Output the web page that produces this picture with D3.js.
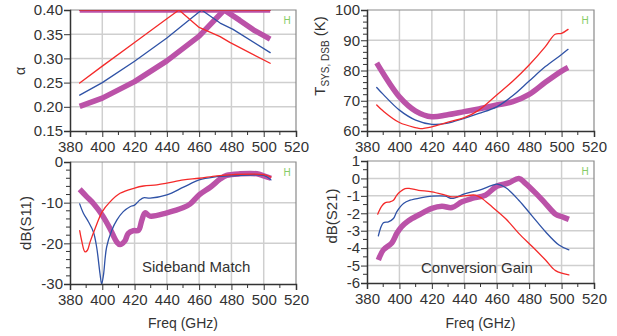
<!DOCTYPE html>
<html><head><meta charset="utf-8">
<script src="https://cdn.jsdelivr.net/npm/d3@7"></script>
<style>body{margin:0;background:#fff}svg{display:block;font-family:"Liberation Sans",Arial,sans-serif}</style>
</head><body><svg id="c" width="617" height="336"></svg>
<script>
// ---------- data ----------
const freqTicks = [380,400,420,440,460,480,500,520];
const freqMinor = [390,410,430,450,470,490,510];

const alphaTicks = [0.15,0.20,0.25,0.30,0.35,0.40];
const alphaRed  = [[386,0.249],[400,0.284],[420,0.333],[440,0.382],[447.5,0.40],[460,0.364],[473,0.345],[479,0.333],[504,0.290]];
const alphaBlue = [[386,0.224],[400,0.250],[420,0.294],[440,0.342],[461.5,0.40],[473,0.373],[481,0.360],[504,0.312]];
const alphaMag  = [[386,0.201],[400,0.218],[420,0.252],[440,0.295],[460,0.346],[475.5,0.40],[485,0.379],[493.6,0.359],[504,0.340]];
const alphaFlat = [[386,0.40],[504,0.40]];

const tsysTicks = [60,70,80,90,100];
const tsysMinor = [62,64,66,68,72,74,76,78,82,84,86,88,92,94,96,98];
const tsysMag  = [[386,82.5],[390,79.0],[400,71.3],[410,66.6],[420,64.7],[429,65.3],[440,66.4],[449,67.3],[460,68.6],[470,69.7],[480,72.1],[490,76.1],[500,79.8],[504,81.0]];
const tsysBlue = [[386,74.4],[390,72.1],[400,66.9],[410,63.6],[420,62.2],[429,62.5],[440,64.2],[449,65.8],[460,68.0],[470,71.7],[480,76.5],[490,81.3],[500,85.3],[504,87.0]];
const tsysRed  = [[386,68.6],[390,66.6],[400,62.8],[410,61.1],[413,60.8],[420,61.4],[429,62.8],[440,64.4],[449,66.9],[460,71.9],[470,76.5],[480,81.8],[490,87.9],[496,92.0],[500,92.3],[504,93.6]];

const s11Ticks = [-30,-20,-10,0];
const s11Minor = [-28,-26,-24,-22,-18,-16,-14,-12,-8,-6,-4,-2];
const s11Mag  = [[386,-6.7],[390.3,-8.5],[394.5,-10.2],[400,-13.1],[404.8,-16.4],[409,-19.7],[411,-20.3],[414,-19.4],[416,-17.6],[419.3,-16.9],[422.4,-16.8],[424.5,-14.3],[426.5,-12.5],[429.6,-13.3],[440,-12.5],[450.3,-11.2],[454.5,-10.3],[460,-8.1],[466.9,-6.2],[473,-4.2],[477,-3.3],[485.5,-2.9],[495.8,-2.9],[500,-3.4],[504.5,-4.0]];
const s11Blue = [[386,-10.3],[388.3,-12.6],[391.4,-14.7],[394.5,-17.2],[396.5,-20.9],[398.6,-27.5],[399.6,-30],[400.7,-27.9],[402.7,-20.9],[405.9,-16.8],[409,-14.3],[413,-12.2],[417.2,-11.0],[420,-10.6],[423.4,-9.3],[425.5,-8.8],[429.6,-8.9],[440,-8.1],[450.3,-6.2],[460,-4.4],[469,-3.7],[481,-3.4],[500,-3.3],[504.5,-4.4]];
const s11Red  = [[386,-16.9],[387.2,-19.3],[389.3,-22.1],[390.8,-21.7],[392.4,-19.7],[395.5,-16.4],[400,-12.2],[404.8,-9.8],[411,-7.7],[420,-6.4],[425.5,-5.9],[433.8,-5.6],[440,-5.2],[450.3,-4.4],[460,-4.0],[471,-3.4],[481,-3.1],[500,-3.1],[504.5,-3.7]];

const s21Ticks = [-6,-5,-4,-3,-2,-1,0,1];
const s21Minor = [-5.5,-4.5,-3.5,-2.5,-1.5,-0.5,0.5];
const s21Mag  = [[387,-4.68],[390.1,-4.1],[395.3,-3.7],[398.4,-3.15],[401.4,-2.77],[405.6,-2.43],[411.8,-2.1],[420,-1.72],[426.2,-1.6],[432.4,-1.67],[438.6,-1.34],[444.7,-1.15],[453,-0.96],[460,-0.45],[467.4,-0.26],[473.6,0.0],[477.7,-0.28],[483.9,-0.83],[490.1,-1.44],[496.3,-2.05],[500.4,-2.2],[504.5,-2.35]];
const s21Blue = [[387,-3.3],[390.1,-2.54],[393.2,-2.49],[396.3,-2.3],[398.4,-1.91],[402.5,-1.44],[406.6,-1.25],[413.8,-1.1],[420,-1.02],[428.2,-1.02],[432.4,-1.15],[440.6,-0.87],[448.9,-0.68],[457.1,-0.4],[460.2,-0.33],[465.4,-0.52],[473.6,-1.25],[481.9,-2.16],[490.1,-3.06],[498.4,-3.82],[504.5,-4.1]];
const s21Red  = [[386.6,-2.05],[389,-1.6],[391.1,-1.4],[394.2,-1.34],[396.3,-1.25],[398.4,-0.96],[400.4,-0.77],[403.5,-0.58],[406.6,-0.58],[411.8,-0.68],[420,-0.77],[428.2,-0.96],[432.4,-1.06],[438.6,-1.02],[446.8,-0.96],[450.9,-1.15],[457.1,-1.63],[465.4,-2.3],[473.6,-3.15],[481.9,-3.91],[490.1,-4.68],[496.3,-5.29],[504.5,-5.53]];

// ---------- styles ----------
const RED = "#f42a2a", BLUE = "#2f52a6", MAG = "#bb52a8";
const svg = d3.select("#c");

const panels = [
  {id:"a", x0:70, x1:296, y0:10, y1:131, dom:[0.15,0.40], ticks:alphaTicks, minor:[], fmt:d=>d.toFixed(2),
   series:[[alphaMag,MAG,5.5],[alphaFlat,MAG,5.5],[alphaBlue,BLUE,1.3],[alphaFlat,BLUE,1.3],[alphaRed,RED,1.3],[alphaFlat,RED,1.3]],
   curve:d3.curveLinear},
  {id:"t", x0:367, x1:594, y0:10, y1:131, dom:[60,100], ticks:tsysTicks, minor:tsysMinor, fmt:d=>String(d),
   series:[[tsysMag,MAG,5.5],[tsysBlue,BLUE,1.3],[tsysRed,RED,1.3]], curve:d3.curveCatmullRom},
  {id:"s11", x0:70, x1:296, y0:162, y1:284, dom:[-30,0], ticks:s11Ticks, minor:s11Minor, fmt:d=>String(d),
   series:[[s11Mag,MAG,5.5],[s11Blue,BLUE,1.3],[s11Red,RED,1.3]], curve:d3.curveCatmullRom, xlabel:true,
   note:"Sideband Match", noteX:142, noteY:267},
  {id:"s21", x0:367, x1:594, y0:161, y1:283, dom:[-6,1], ticks:s21Ticks, minor:s21Minor, fmt:d=>String(d),
   series:[[s21Mag,MAG,5.5],[s21Blue,BLUE,1.3],[s21Red,RED,1.3]], curve:d3.curveCatmullRom, xlabel:true,
   note:"Conversion Gain", noteX:421, noteY:268}
];

panels.forEach(p => {
  const x = d3.scaleLinear().domain([380,520]).range([p.x0,p.x1]);
  const y = d3.scaleLinear().domain(p.dom).range([p.y1,p.y0]);
  const g = svg.append("g");

  // grid
  g.selectAll(".vg").data(freqTicks.slice(1,-1)).join("line")
    .attr("x1",d=>x(d)).attr("x2",d=>x(d)).attr("y1",p.y0).attr("y2",p.y1)
    .attr("stroke","#cfcfcf").attr("stroke-width",1.5);
  g.selectAll(".hg").data(p.ticks.slice(1,-1)).join("line")
    .attr("x1",p.x0).attr("x2",p.x1).attr("y1",d=>y(d)).attr("y2",d=>y(d))
    .attr("stroke","#cfcfcf").attr("stroke-width",1.5);
  // top/right frame
  g.append("path").attr("d",`M${p.x0},${p.y0}H${p.x1}V${p.y1}`)
    .attr("fill","none").attr("stroke","#8a8a8a").attr("stroke-width",1.2);

  // clip
  svg.append("clipPath").attr("id","clip-"+p.id).append("rect")
    .attr("x",p.x0).attr("y",p.y0).attr("width",p.x1-p.x0).attr("height",p.y1-p.y0);
  const lg = g.append("g").attr("clip-path",`url(#clip-${p.id})`);
  const line = d3.line().x(d=>x(d[0])).y(d=>y(d[1])).curve(p.curve);
  p.series.forEach(([data,col,w]) => {
    lg.append("path").attr("d",line(data)).attr("fill","none")
      .attr("stroke",col).attr("stroke-width",w).attr("stroke-linejoin","round").attr("stroke-linecap", w>3?"butt":"round");
  });

  // axes
  const xa = g.append("g").attr("transform",`translate(0,${p.y1})`)
    .call(d3.axisBottom(x).tickValues(freqTicks).tickSize(6).tickPadding(4).tickFormat(d=>String(d)));
  xa.append("g").selectAll("line").data(freqMinor).join("line")
    .attr("x1",d=>x(d)).attr("x2",d=>x(d)).attr("y1",0).attr("y2",4).attr("stroke","#333");
  const ya = g.append("g").attr("transform",`translate(${p.x0},0)`)
    .call(d3.axisLeft(y).tickValues(p.ticks).tickSize(6).tickPadding(1).tickFormat(p.fmt));
  ya.append("g").selectAll("line").data(p.minor).join("line")
    .attr("x1",0).attr("x2",-4).attr("y1",d=>y(d)).attr("y2",d=>y(d)).attr("stroke","#333");
  [xa,ya].forEach(a => {
    a.select(".domain").attr("stroke","#333").attr("stroke-width",1.5);
    a.selectAll(".tick line").attr("stroke","#333");
    a.selectAll(".tick text").attr("fill","#333").style("font-size","15px")
      .style("font-family","'Liberation Sans',Arial,sans-serif");
  });

  // H marker
  g.append("text").attr("x",p.x1-9).attr("y",p.y0+14).attr("text-anchor","middle")
    .attr("fill","#86cc66").style("font-size","10px").text("H");

  if (p.xlabel) {
    g.append("text").attr("x",(p.x0+p.x1)/2).attr("y",328).attr("text-anchor","middle")
      .attr("fill","#333").style("font-size","14px").text("Freq (GHz)");
  }
  if (p.note) {
    g.append("text").attr("x",p.noteX).attr("y",p.noteY+5).attr("fill","#333")
      .style("font-size","15px").text(p.note);
  }
});

// y axis titles
svg.append("text").attr("transform","translate(25,71) rotate(-90)").attr("text-anchor","middle")
  .attr("fill","#333").style("font-size","14px").text("α");
const tl = svg.append("text").attr("transform","translate(325,56) rotate(-90)").attr("text-anchor","middle")
  .attr("fill","#333").style("font-size","15px");
tl.append("tspan").text("T");
tl.append("tspan").attr("dy",4).style("font-size","10px").text("SYS, DSB");
tl.append("tspan").attr("dy",-4).text(" (K)");
svg.append("text").attr("transform","translate(31,223) rotate(-90)").attr("text-anchor","middle")
  .attr("fill","#333").style("font-size","15px").text("dB(S11)");
svg.append("text").attr("transform","translate(337,216) rotate(-90)").attr("text-anchor","middle")
  .attr("fill","#333").style("font-size","15px").text("dB(S21)");
</script></body></html>
